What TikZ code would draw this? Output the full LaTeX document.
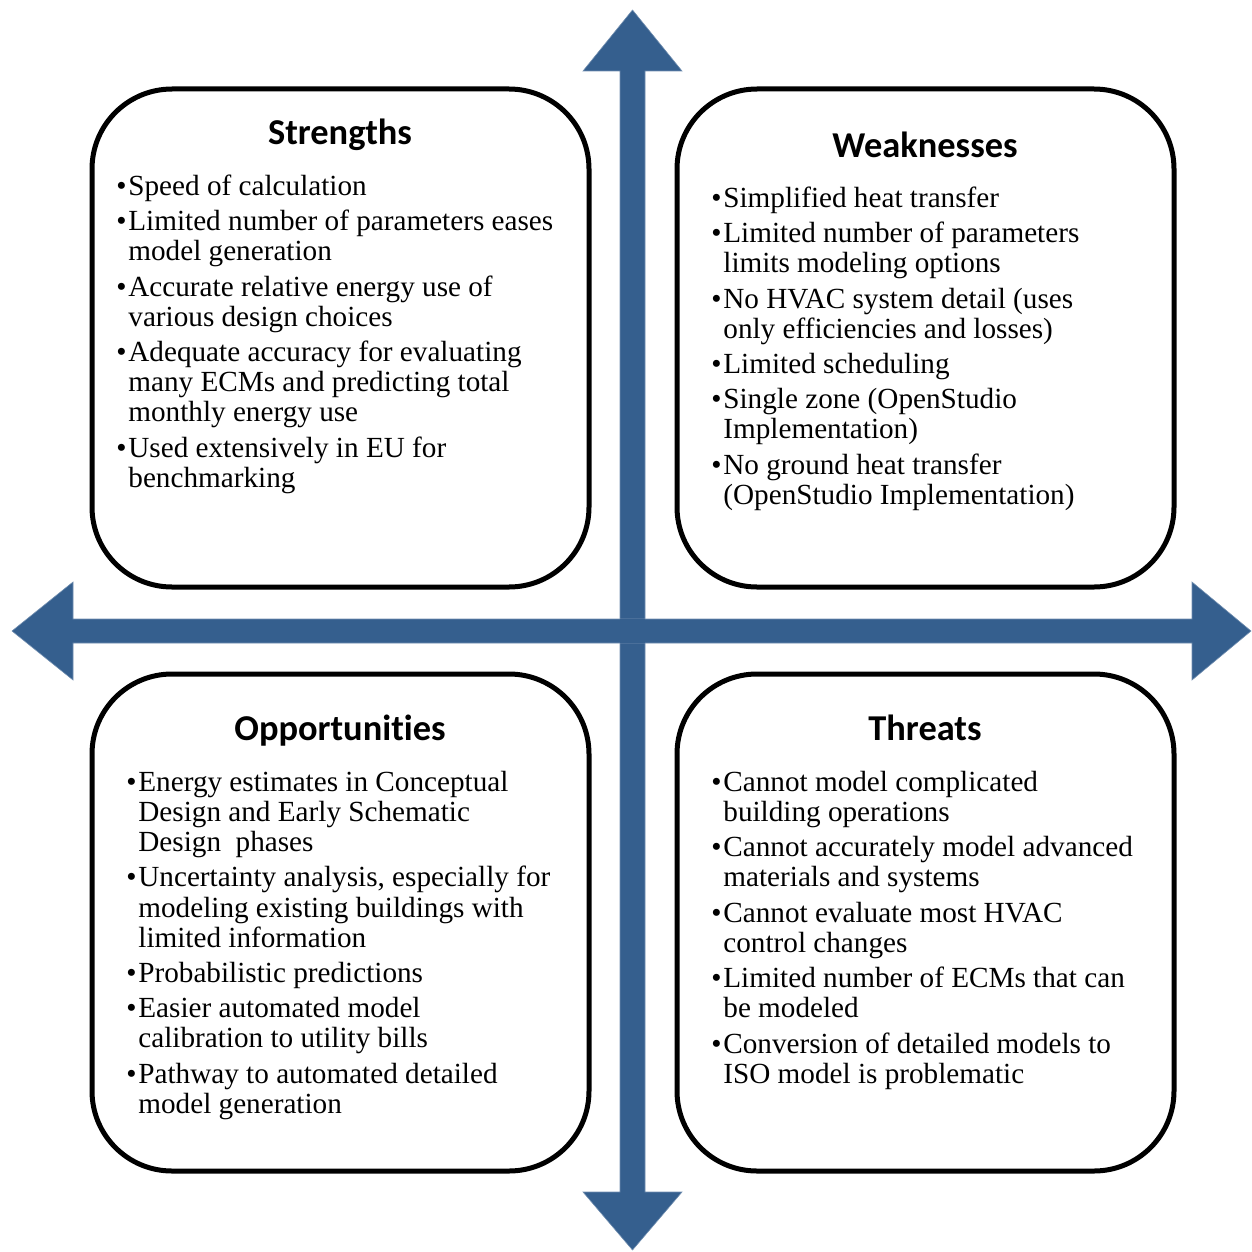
\documentclass[tikz,border=0pt]{standalone}
\usepackage{fontspec}
\setmainfont{Liberation Serif}
\newfontfamily\headfont[RawFeature=-liga]{Carlito}
\definecolor{arrowblue}{RGB}{53,95,142}
\newcommand{\bl}{\makebox[6pt][l]{\textbullet}}
\newcommand{\ind}{\hspace*{6pt}}
\tikzset{
  quadbox/.style={draw=black, line width=2.5pt, rounded corners=40pt},
  heading/.style={anchor=base, inner sep=0pt, font=\headfont\bfseries\fontsize{18.2}{21}\selectfont},
  bodytext/.style={anchor=north west, inner sep=0pt, align=left, font=\fontsize{14.6}{15.05}\selectfont},
  bigarrow/.style={fill=arrowblue, draw=arrowblue!70!white, line width=0.3pt}
}
\begin{document}
\begin{tikzpicture}[x=0.5pt,y=-0.5pt]
\useasboundingbox (0,0) rectangle (1252,1252);
% arrows
\fill[bigarrow] (620,71) -- (583,71) -- (632.5,10) -- (682,71) -- (645,71) -- (645,1192) -- (682,1192) -- (632.5,1250) -- (583,1192) -- (620,1192) -- cycle;
\fill[bigarrow] (73,619) -- (73,582) -- (12,631) -- (73,680) -- (73,643) -- (1192,643) -- (1192,680) -- (1251,631) -- (1192,582) -- (1192,619) -- cycle;
\fill[arrowblue] (620,619) rectangle (645,643);
% boxes
\draw[quadbox] (92,89) rectangle (589,587);
\draw[quadbox] (677,89) rectangle (1174,587);
\draw[quadbox] (92,674) rectangle (589,1171);
\draw[quadbox] (677,674) rectangle (1174,1171);
% headings
\node[heading] (hS) at (340,144) {Strengths};
\node[heading] (hW) at (925,157) {Weaknesses};
\node[heading] (hO) at (340,740) {Opportunities};
\node[heading] (hT) at (925,740) {Threats};
% lists
\node[bodytext] (tS) at (116,174) {\strut\bl Speed of calculation\\[2.6pt]
\bl Limited number of parameters eases\\
\ind model generation\\[2.6pt]
\bl Accurate relative energy use of\\
\ind various design choices\\[2.6pt]
\bl Adequate accuracy for evaluating\\
\ind many ECMs and predicting total\\
\ind monthly energy use\\[2.6pt]
\bl Used extensively in EU for\\
\ind benchmarking};
\node[bodytext] (tW) at (711,186) {\strut\bl Simplified heat transfer\\[2.6pt]
\bl Limited number of parameters\\
\ind limits modeling options\\[2.6pt]
\bl No HVAC system detail (uses\\
\ind only efficiencies and losses)\\[2.6pt]
\bl Limited scheduling\\[2.6pt]
\bl Single zone (OpenStudio\\
\ind Implementation)\\[2.6pt]
\bl No ground heat transfer\\
\ind (OpenStudio Implementation)};
\node[bodytext] (tO) at (126,770) {\strut\bl Energy estimates in Conceptual\\
\ind Design and Early Schematic\\
\ind Design\ \ phases\\[2.6pt]
\bl Uncertainty analysis, especially for\\
\ind modeling existing buildings with\\
\ind limited information\\[2.6pt]
\bl Probabilistic predictions\\[2.6pt]
\bl Easier automated model\\
\ind calibration to utility bills\\[2.6pt]
\bl Pathway to automated detailed\\
\ind model generation};
\node[bodytext] (tT) at (711,770) {\strut\bl Cannot model complicated\\
\ind building operations\\[2.6pt]
\bl Cannot accurately model advanced\\
\ind materials and systems\\[2.6pt]
\bl Cannot evaluate most HVAC\\
\ind control changes\\[2.6pt]
\bl Limited number of ECMs that can\\
\ind be modeled\\[2.6pt]
\bl Conversion of detailed models to\\
\ind ISO model is problematic};
\end{tikzpicture}
\end{document}
